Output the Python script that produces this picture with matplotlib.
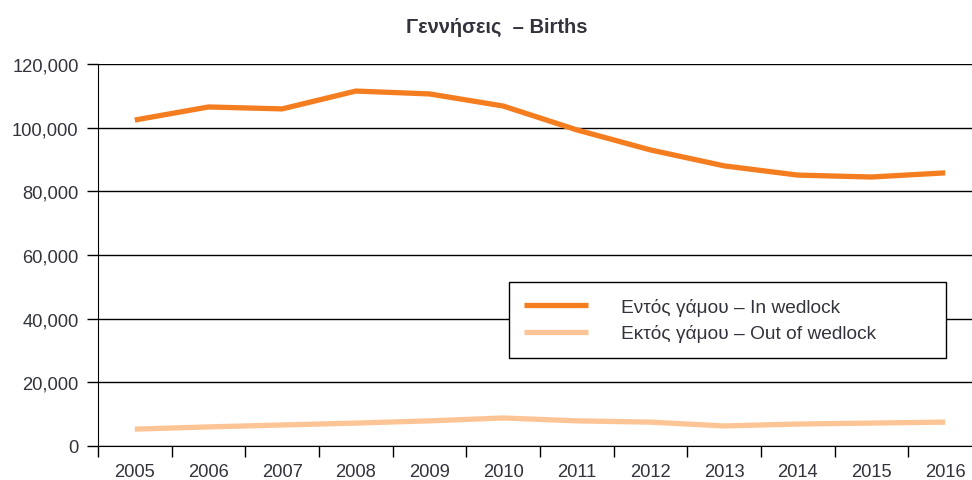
import numpy as np
import matplotlib.pyplot as plt

plt.rcParams['font.family'] = ['Liberation Sans', 'DejaVu Sans']

years = ['2005', '2006', '2007', '2008', '2009', '2010',
         '2011', '2012', '2013', '2014', '2015', '2016']
in_wedlock = [102400, 106500, 105900, 111500, 110600, 106800,
              99300, 93000, 88000, 85100, 84500, 85800]
out_wedlock = [5300, 6000, 6600, 7200, 7900, 8800,
               7900, 7500, 6300, 6900, 7200, 7500]

x = np.arange(len(years))
txtcol = '#33333d'

fig = plt.figure(figsize=(9.72, 4.81), dpi=100)
ax = fig.add_axes([98/972, 1-447/481, 884/972, (447-65)/481])

ax.plot(x, in_wedlock, color='#F47D20', lw=3.8, solid_capstyle='butt',
        label='Εντός γάμου – In wedlock', zorder=3)
ax.plot(x, out_wedlock, color='#FDC595', lw=3.8, solid_capstyle='butt',
        label='Εκτός γάμου – Out of wedlock', zorder=3)

ax.set_xlim(-0.5, len(years) - 0.5)
ax.set_ylim(0, 120000)
ax.set_yticks(np.arange(0, 120001, 20000))
ax.set_yticklabels(['{:,}'.format(v) for v in range(0, 120001, 20000)])
ax.yaxis.grid(True, color='black', lw=1)
ax.set_axisbelow(True)

# boundaries as major ticks, labels on minor ticks at centres
ax.set_xticks(np.arange(-0.5, len(years) - 0.4, 1))
ax.set_xticklabels([])
ax.set_xticks(x, minor=True)
ax.set_xticklabels(years, minor=True)
ax.tick_params(axis='x', which='major', length=8, width=1, color='black')
ax.tick_params(axis='x', which='minor', length=0, pad=12)
ax.tick_params(axis='y', length=8, width=1, color='black', pad=6)
ax.tick_params(axis='both', which='both', labelsize=13.2, labelcolor=txtcol)

for s in ['top', 'right']:
    ax.spines[s].set_visible(False)
ax.spines['left'].set_color('black')
ax.spines['bottom'].set_color('black')

leg = ax.legend(loc='center left', bbox_to_anchor=(0.465, 0.233, 0.4943, 0.1937),
                mode='expand', fancybox=False, framealpha=1, edgecolor='black',
                fontsize=13.8, handlelength=3.3, handletextpad=1.75,
                borderpad=0.8, labelspacing=0.45, borderaxespad=0)
leg.get_frame().set_linewidth(1)
for t in leg.get_texts():
    t.set_color(txtcol)

fig.text(0.511, 1-27/481, 'Γεννήσεις  – Births', ha='center', va='center',
         fontsize=14.5, fontweight='bold', color=txtcol)

fig.savefig('out.png', dpi=100)
